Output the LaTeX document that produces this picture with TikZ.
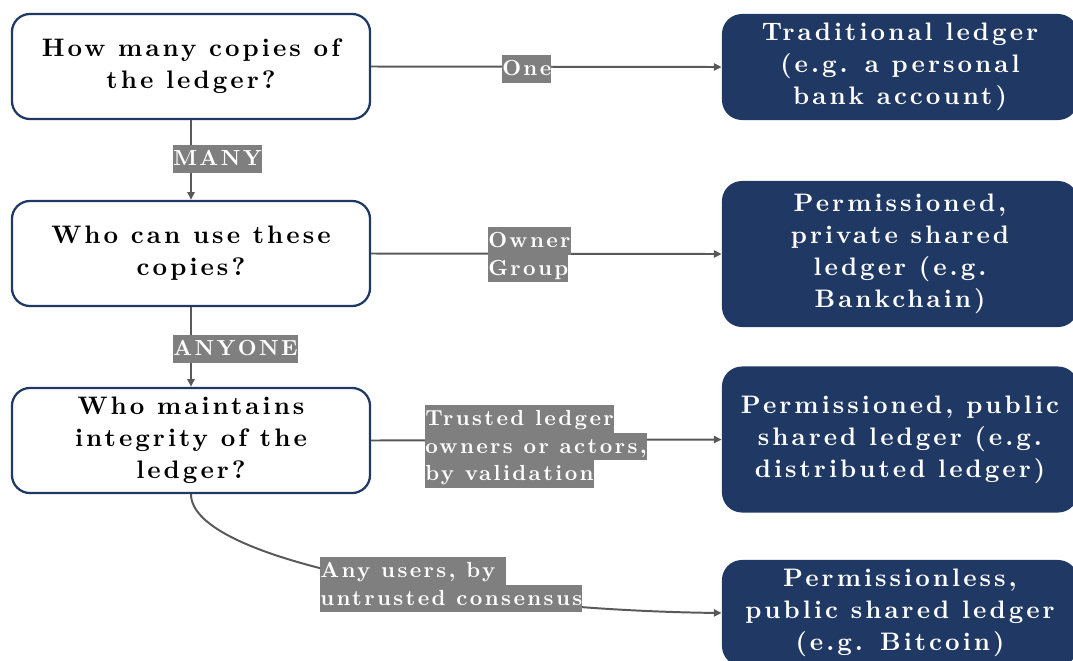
\documentclass[tikz,border=0pt]{standalone}
\usepackage{fontspec}
\usepackage{tikz}
\usetikzlibrary{arrows.meta}
\definecolor{ledgernavy}{RGB}{32,56,100}
\definecolor{linegray}{RGB}{89,89,89}
\definecolor{labelgray}{RGB}{127,127,127}
\newfontfamily\ledgerfont{lmroman10-bold}[Extension=.otf, LetterSpace=12]
\newfontfamily\ledgerlabfont{lmroman10-bold}[Extension=.otf, LetterSpace=11]
\newcommand{\boxfont}{\ledgerfont\fontsize{18}{22.8}\selectfont}
\newcommand{\labfont}{\ledgerlabfont\fontsize{15.5}{19}\selectfont}
\newcommand{\grayline}[1]{\hbox{\colorbox{labelgray}{\rule[-5pt]{0pt}{19.5pt}#1}}}
\setlength{\fboxsep}{0pt}

\begin{document}
\begin{tikzpicture}[x=0.025cm,y=-0.025cm,
    question/.style={draw=ledgernavy, line width=1.6pt, rounded corners=0.45cm, fill=white,
      minimum width=8.95cm, minimum height=2.625cm, align=center, font=\boxfont},
    answer/.style={fill=ledgernavy, rounded corners=0.5cm, minimum width=8.9cm,
      text=white, align=center, font=\boxfont},
    conn/.style={draw=linegray, line width=1.4pt, -{Triangle[length=5.5pt,width=5pt]}},
    lab/.style={inner sep=0pt, anchor=north west, text=white, font=\labfont}]
        \path[use as bounding box, clip] (0,0) rectangle (1073,660);
        % questions on the left
        \node[question] (q1) at (191,66.5) {How many copies of\\the ledger?};
        \node[question] (q2) at (191,253.5) {Who can use these\\copies?};
        \node[question] (q3) at (191,440.5) {Who maintains\\integrity of the\\ledger?};
        % kinds of ledger on the right
        \node[answer, minimum height=2.65cm] (r1) at (900,67) {Traditional ledger\\(e.g. a personal\\bank account)};
        \node[answer, minimum height=3.65cm] (r2) at (900,254) {Permissioned,\\private shared\\ledger (e.g.\\Bankchain)};
        \node[answer, minimum height=3.65cm] (r3) at (900,439.5) {Permissioned, public\\shared ledger (e.g.\\distributed ledger)};
        \node[answer, minimum height=2.65cm] (r4) at (900,613) {Permissionless,\\public shared ledger\\(e.g. Bitcoin)};
        % connectors
        \draw[conn] (q1.east) -- (r1.west);
        \draw[conn] (q1.south) -- (q2.north);
        \draw[conn] (q2.east) -- (r2.west);
        \draw[conn] (q2.south) -- (q3.north);
        \draw[conn] (q3.east) -- (r3.west);
        \draw[conn] (q3.south) .. controls +(0,67) and +(-252,-3) .. (r4.west);
        % answers on the connectors
        \node[lab] (lone) at (502,55) {\grayline{One}};
        \node[lab] (lmany) at (173,145) {\grayline{MANY}};
        \node[lab] (lowner) at (488,227) {\vbox{\offinterlineskip\grayline{Owner}\grayline{Group}}};
        \node[lab] (lanyone) at (173,335) {\grayline{ANYONE}};
        \node[lab] (ltrust) at (425,405) {\vbox{\offinterlineskip\grayline{Trusted ledger}\grayline{owners or actors,}\grayline{by validation}}};
        \node[lab] (lusers) at (320,557) {\vbox{\offinterlineskip\grayline{Any users, by\ }\grayline{untrusted consensus}}};
\end{tikzpicture}
\end{document}
